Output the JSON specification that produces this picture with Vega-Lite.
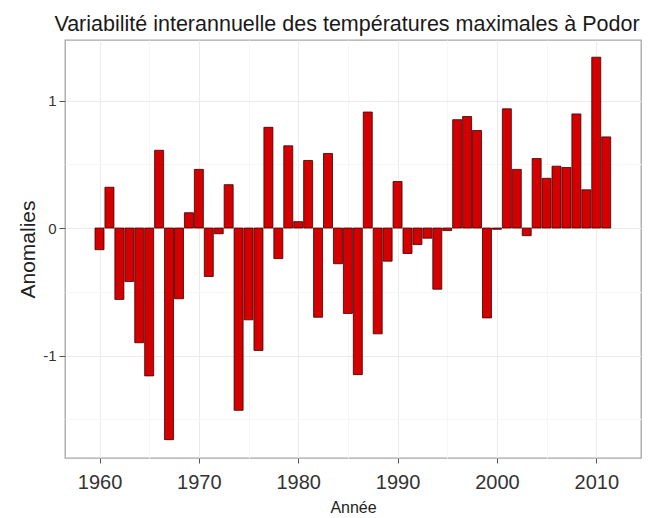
{
  "$schema": "https://vega.github.io/schema/vega-lite/v6.json",
  "width": 576,
  "height": 418,
  "autosize": "none",
  "padding": {"left": 65, "top": 40, "right": 7, "bottom": 60},
  "background": "white",
  "title": {
    "text": "Variabilité interannuelle des températures maximales à Podor",
    "font": "Liberation Sans, sans-serif",
    "fontSize": 21.5,
    "fontWeight": "normal",
    "color": "#1a1a1a",
    "anchor": "middle",
    "frame": "group",
    "dx": -6,
    "offset": 5
  },
  "config": {
    "view": {"stroke": "#a6a6a6", "strokeWidth": 1.3},
    "axis": {"domain": false}
  },
  "data": {
    "values": [
      {"annee": 1960, "anomalie": -0.17},
      {"annee": 1961, "anomalie": 0.32},
      {"annee": 1962, "anomalie": -0.56},
      {"annee": 1963, "anomalie": -0.42},
      {"annee": 1964, "anomalie": -0.9},
      {"annee": 1965, "anomalie": -1.16},
      {"annee": 1966, "anomalie": 0.61},
      {"annee": 1967, "anomalie": -1.66},
      {"annee": 1968, "anomalie": -0.555},
      {"annee": 1969, "anomalie": 0.12},
      {"annee": 1970, "anomalie": 0.46},
      {"annee": 1971, "anomalie": -0.38},
      {"annee": 1972, "anomalie": -0.045},
      {"annee": 1973, "anomalie": 0.34},
      {"annee": 1974, "anomalie": -1.43},
      {"annee": 1975, "anomalie": -0.72},
      {"annee": 1976, "anomalie": -0.96},
      {"annee": 1977, "anomalie": 0.79},
      {"annee": 1978, "anomalie": -0.24},
      {"annee": 1979, "anomalie": 0.645},
      {"annee": 1980, "anomalie": 0.05},
      {"annee": 1981, "anomalie": 0.53},
      {"annee": 1982, "anomalie": -0.7},
      {"annee": 1983, "anomalie": 0.585},
      {"annee": 1984, "anomalie": -0.28},
      {"annee": 1985, "anomalie": -0.67},
      {"annee": 1986, "anomalie": -1.15},
      {"annee": 1987, "anomalie": 0.91},
      {"annee": 1988, "anomalie": -0.83},
      {"annee": 1989, "anomalie": -0.26},
      {"annee": 1990, "anomalie": 0.365},
      {"annee": 1991, "anomalie": -0.2},
      {"annee": 1992, "anomalie": -0.13},
      {"annee": 1993, "anomalie": -0.08},
      {"annee": 1994, "anomalie": -0.48},
      {"annee": 1995, "anomalie": -0.02},
      {"annee": 1996, "anomalie": 0.85},
      {"annee": 1997, "anomalie": 0.875},
      {"annee": 1998, "anomalie": 0.765},
      {"annee": 1999, "anomalie": -0.705},
      {"annee": 2000, "anomalie": -0.01},
      {"annee": 2001, "anomalie": 0.935},
      {"annee": 2002, "anomalie": 0.46},
      {"annee": 2003, "anomalie": -0.06},
      {"annee": 2004, "anomalie": 0.545},
      {"annee": 2005, "anomalie": 0.39},
      {"annee": 2006, "anomalie": 0.485},
      {"annee": 2007, "anomalie": 0.475},
      {"annee": 2008, "anomalie": 0.895},
      {"annee": 2009, "anomalie": 0.3},
      {"annee": 2010, "anomalie": 1.34},
      {"annee": 2011, "anomalie": 0.715}
    ]
  },
  "mark": {"type": "bar", "width": 9, "fill": "#d40000", "stroke": "#3a0000", "strokeWidth": 0.8},
  "encoding": {
    "x": {
      "field": "annee",
      "type": "quantitative",
      "scale": {"domain": [1957.03, 2014.0], "nice": false, "zero": false},
      "axis": {
        "title": "Année",
        "values": [1960, 1965, 1970, 1975, 1980, 1985, 1990, 1995, 2000, 2005, 2010],
        "labelExpr": "datum.value % 10 === 0 ? '' + datum.value : ''",
        "labelFont": "Liberation Sans, sans-serif",
        "labelFontSize": 20,
        "labelColor": "#333333",
        "labelPadding": 9,
        "tickSize": 5,
        "tickColor": "#555555",
        "tickOpacity": {"condition": {"test": "datum.value % 10 === 0", "value": 1}, "value": 0},
        "grid": true,
        "gridColor": {"condition": {"test": "datum.value % 10 === 0", "value": "#ebebeb"}, "value": "#f6f6f6"},
        "titleFont": "Liberation Sans, sans-serif",
        "titleFontSize": 16,
        "titleFontWeight": "normal",
        "titleColor": "#222222",
        "titlePadding": 7
      }
    },
    "y": {
      "field": "anomalie",
      "type": "quantitative",
      "scale": {"domain": [-1.804, 1.475], "nice": false},
      "axis": {
        "title": "Anomalies",
        "values": [-1.5, -1, -0.5, 0, 0.5, 1],
        "labelExpr": "datum.value % 1 === 0 ? '' + datum.value : ''",
        "labelFont": "Liberation Sans, sans-serif",
        "labelFontSize": 15,
        "labelColor": "#333333",
        "labelPadding": 3,
        "tickSize": 6,
        "tickColor": "#555555",
        "tickOpacity": {"condition": {"test": "datum.value % 1 === 0", "value": 1}, "value": 0},
        "grid": true,
        "gridColor": {"condition": {"test": "datum.value % 1 === 0", "value": "#ebebeb"}, "value": "#f6f6f6"},
        "titleFont": "Liberation Sans, sans-serif",
        "titleFontSize": 21,
        "titleFontWeight": "normal",
        "titleColor": "#222222",
        "titlePadding": 4
      }
    }
  }
}
